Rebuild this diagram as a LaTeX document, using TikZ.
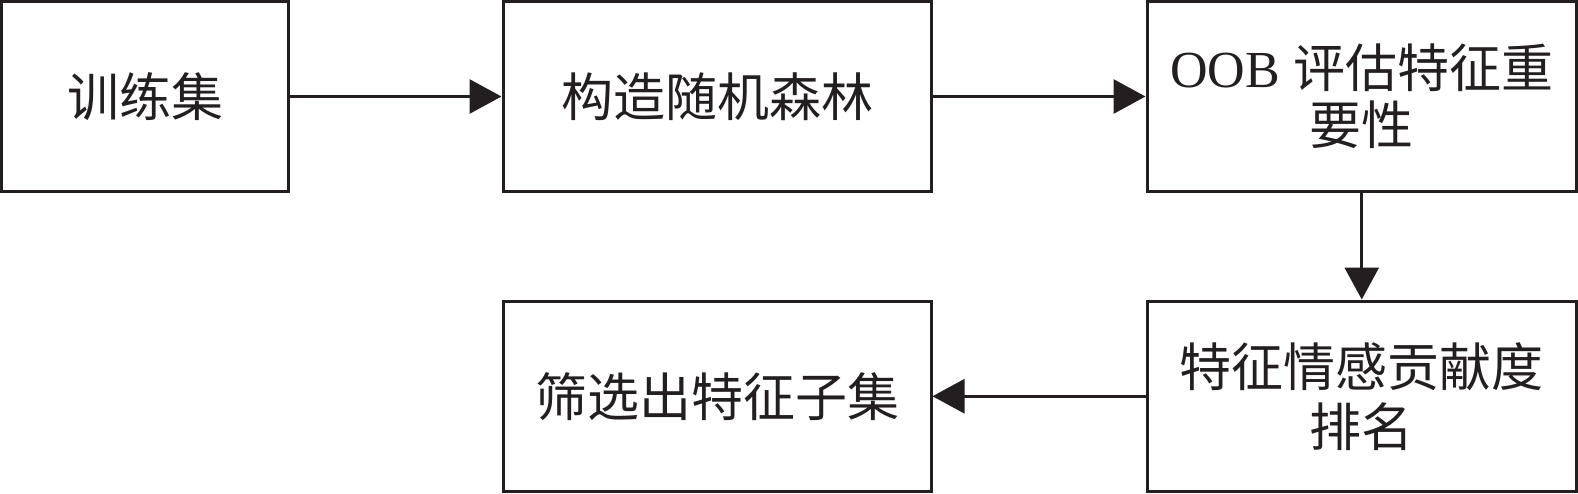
\documentclass[tikz,border=0pt]{standalone}
\usepackage{fontspec}
\setmainfont{Liberation Serif}
\newfontfamily\cjk{Noto Sans CJK SC}
\usetikzlibrary{arrows.meta}
\definecolor{ink}{HTML}{231F20}
\begin{document}
\begin{tikzpicture}[x=0.5pt,y=-0.5pt,
  box/.style={draw=ink, line width=1.5pt, inner sep=0pt, align=center,
    text=ink, font=\fontsize{26}{28.5}\selectfont},
  conn/.style={draw=ink, line width=1.5pt, -{Triangle[length=16pt,width=17pt]}}]
\useasboundingbox (0,0) rectangle (1578,493);
\node[box, minimum width=143.5pt, minimum height=95pt] (a) at (145,96.5) {\cjk 训练集};
\node[box, minimum width=214pt, minimum height=95pt] (b) at (717,96.5) {\cjk 构造随机森林};
\node[box, minimum width=214.75pt, minimum height=95pt] (c) at (1361.75,96.5) {OOB {\cjk 评估特征重}\\{\cjk 要性}};
\node[box, minimum width=214.75pt, minimum height=95.25pt] (d) at (1361.75,396.25) {\cjk 特征情感贡献度\\[1.5pt]\cjk 排名};
\node[box, minimum width=214pt, minimum height=95.25pt] (e) at (717,396.25) {\cjk 筛选出特征子集};
\draw[conn] (a) -- (b);
\draw[conn] (b) -- (c);
\draw[conn] (c) -- (d);
\draw[conn] (d) -- (e);
\end{tikzpicture}
\end{document}
